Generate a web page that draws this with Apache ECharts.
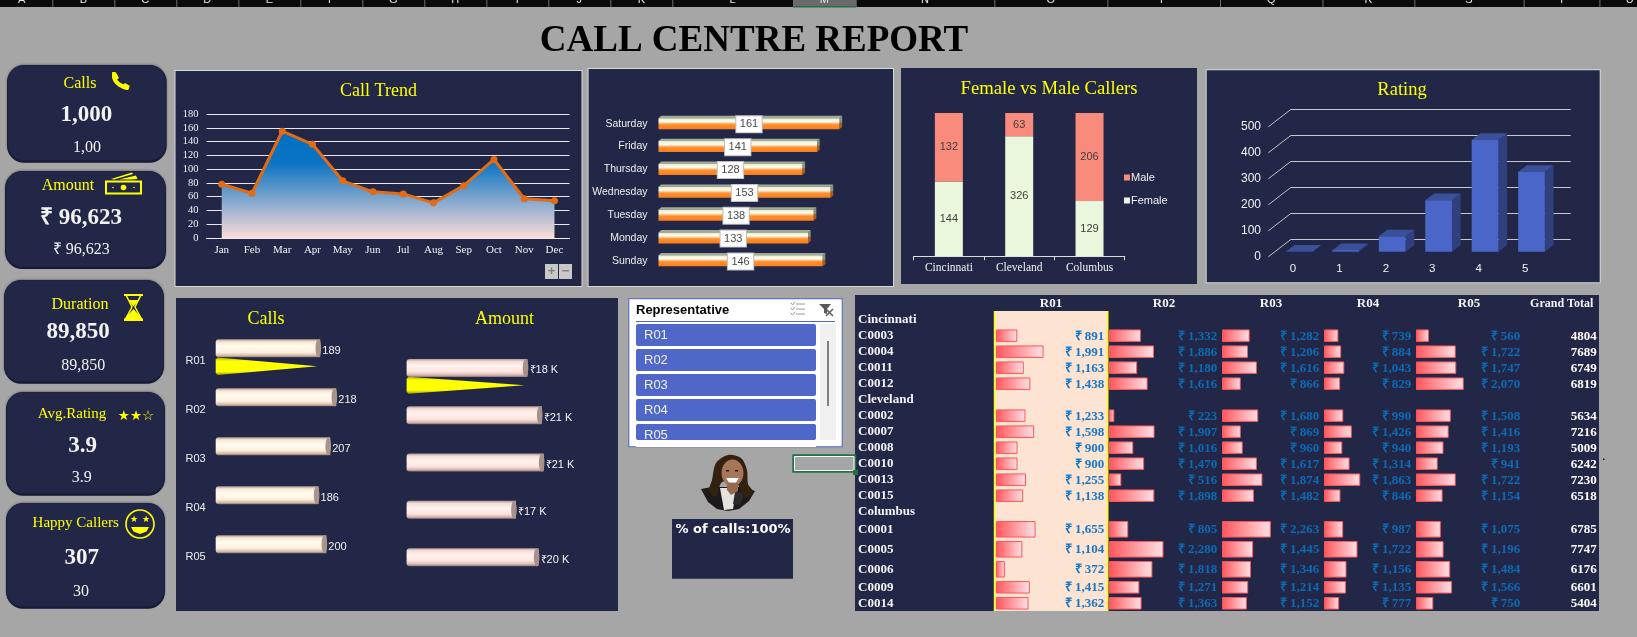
<!DOCTYPE html>
<html>
<head>
<meta charset="utf-8">
<style>html,body{margin:0;padding:0;background:#a6a6a6;overflow:hidden}#c{width:1637px;height:637px}</style>
<script src="https://cdn.jsdelivr.net/npm/echarts@6/dist/echarts.min.js"></script>
</head>
<body>
<div id="c"></div>
<script>
const months = ['Jan','Feb','Mar','Apr','May','Jun','Jul','Aug','Sep','Oct','Nov','Dec'];
const callsByMonth = [78,65,155,136,83,67,64,51,76,114,57,54];
const weekdays = ['Sunday','Monday','Tuesday','Wednesday','Thursday','Friday','Saturday'];
const callsByWeekday = [146,133,138,153,128,141,161];
const cities = ['Cincinnati','Cleveland','Columbus'];
const femaleCallers = [144,326,129];
const maleCallers = [132,63,206];
const ratingLevels = ['0','1','2','3','4','5'];
const ratingCounts = [0,6,59,198,430,307];
const reps = ['R01','R02','R03','R04','R05'];
const repCalls = [189,218,207,186,200];
const selectedCalls = [189];
const repAmount = [18415,20581,20872,16651,20104];
const selectedAmount = [18415];
const tableRows = ['Cincinnati','C0003','C0004','C0011','C0012','Cleveland','C0002','C0007','C0008','C0010','C0013','C0015','Columbus','C0001','C0005','C0006','C0009','C0014'];
const r01 = [null,891,1991,1163,1438,null,1233,1598,900,900,1255,1138,null,1655,1104,372,1415,1362];
const r02 = [null,1332,1886,1180,1616,null,223,1907,1016,1470,516,1898,null,805,2280,1818,1271,1363];
const r03 = [null,1282,1206,1616,866,null,1680,869,960,1617,1874,1482,null,2263,1445,1346,1214,1152];
const r04 = [null,739,884,1043,829,null,990,1426,940,1314,1863,846,null,987,1722,1156,1135,777];
const r05 = [null,560,1722,1747,2070,null,1508,1416,1193,941,1722,1154,null,1075,1196,1484,1566,750];
const grandTotals = [null,4804,7689,6749,6819,null,5634,7216,5009,6242,7230,6518,null,6785,7747,6176,6601,5404];
const columnLetters = ['A','B','C','D','E','F','G','H','I','J','K','L','M','N','O','P','Q','R','S','T','U'];

const NAVY = '#222747', YEL = '#ffff00', SERIF = '"Liberation Serif"', SANS = '"Liberation Sans"';
const grids = [], xAxes = [], yAxes = [], series = [], gfx = [], titles = [];
function addGrid(g, x, y) {
  const i = grids.length;
  grids.push(Object.assign({ containLabel: false }, g));
  xAxes.push(Object.assign({ gridIndex: i }, x));
  yAxes.push(Object.assign({ gridIndex: i }, y));
  return i;
}
const HID = { show: false };
function R(x, y, w, h, fill, o) { o = o || {}; gfx.push({ type: 'rect', z: o.z == null ? -10 : o.z, silent: true, shape: { x, y, width: w, height: h, r: o.r || 0 }, style: Object.assign({ fill }, o.style || {}) }); }
function T(text, x, y, o) { o = o || {}; gfx.push({ type: 'text', z: 100, silent: true, style: { text, x, y, align: o.align || 'center', verticalAlign: o.v || 'middle', fill: o.fill || '#fff', fontSize: o.size || 12, fontFamily: o.family || SANS, fontWeight: o.weight || 'normal' } }); }
function P(points, fill, o) { o = o || {}; gfx.push({ type: o.line ? 'polyline' : 'polygon', z: 100, silent: true, shape: { points, smooth: o.smooth || 0 }, style: o.line ? { fill: null, stroke: fill, lineWidth: o.line, lineCap: 'round' } : { fill } }); }
function L(x1, y1, x2, y2, c, w) { gfx.push({ type: 'line', z: 100, silent: true, shape: { x1, y1, x2, y2 }, style: { stroke: c, lineWidth: w || 1 } }); }
function chartTitle(text, x, y, size) { titles.push({ text, left: x, top: y, padding: 0, textAlign: 'center', textVerticalAlign: 'middle', textStyle: { color: YEL, fontFamily: SERIF, fontSize: size || 18, fontWeight: 'normal' } }); }

/* sheet chrome */
R(0, 0, 1637, 7, '#0b0b0b');
R(793, 0, 63, 6, '#6a6a6a');
R(793, 6, 63, 1.5, '#217346');
const colEdges = [-9,52.3,114.3,176.3,238.3,300.3,362.3,424.3,486.3,548.3,610.3,672.3,793,855.7,994.3,1107.4,1220,1322.5,1414.3,1523.6,1599.4,1660];
colEdges.forEach(e => R(e, 0, 1, 7, '#6f6f6f'));
columnLetters.forEach((c, i) => T(c, (colEdges[i] + colEdges[i + 1]) / 2, 5, { v: 'bottom', size: 11, fill: '#e6e6e6' }));
titles.push({ text: 'CALL CENTRE REPORT', left: 754, top: 41, padding: 0, textAlign: 'center', textVerticalAlign: 'middle', textStyle: { color: '#000', fontFamily: SERIF, fontSize: 37, fontWeight: 'bold' } });

/* KPI cards */
function card(x1, y1, x2, y2, label, lx, ly, ls, main, mx, my, small, sx, sy) {
  R(x1, y1, x2 - x1, y2 - y1, '#161931', { r: 17 });
  R(x1 + 1, y1 + 0.5, x2 - x1 - 2, y2 - y1 - 3, NAVY, { r: 16, style: { shadowBlur: 3, shadowColor: NAVY } });
  T(label, lx, ly, { family: SERIF, size: ls, fill: YEL });
  T(main, mx, my, { family: SERIF, size: 23, weight: 'bold', fill: '#f2f2f2' });
  T(small, sx, sy, { family: SERIF, size: 16, fill: '#f2f2f2' });
}
card(7, 65, 166.7, 162.7, 'Calls', 80, 84, 16, '1,000', 86.3, 115, '1,00', 87, 148);
card(5, 171, 166, 269, 'Amount', 68, 185.5, 16, '\u20B9 96,623', 81, 218, '\u20B9 96,623', 81.3, 249.5);
card(4, 280, 164, 383.7, 'Duration', 80, 304.5, 16, '89,850', 78, 332, '89,850', 83.3, 366);
card(6, 392, 165, 495.7, 'Avg.Rating', 72, 414.5, 15, '3.9', 82.7, 446, '3.9', 81.7, 477.5);
card(6, 503, 165, 608.7, 'Happy Callers', 75.7, 523.5, 15, '307', 81.7, 558.5, '30', 81, 592);
/* phone */
P([[114,74],[115,80],[120,85],[127,88]], YEL, { line: 4, smooth: 0.5 });
P([[112,72],[116,72.5],[119,78],[115,81]], YEL);
P([[122,86],[125,83],[130,86],[127.5,90]], YEL);
/* money */
gfx.push({ type: 'rect', z: 100, silent: true, shape: { x: 106, y: 181.5, width: 35, height: 12 }, style: { fill: 'none', stroke: YEL, lineWidth: 2 } });
gfx.push({ type: 'circle', z: 100, silent: true, shape: { cx: 123.5, cy: 187.5, r: 2.8 }, style: { fill: YEL } });
gfx.push({ type: 'circle', z: 100, silent: true, shape: { cx: 113, cy: 187.5, r: 0.8 }, style: { fill: YEL } });
gfx.push({ type: 'circle', z: 100, silent: true, shape: { cx: 134, cy: 187.5, r: 0.8 }, style: { fill: YEL } });
P([[111,179],[132,172.5],[133,174],[114,179.5]], YEL);
P([[119,179.5],[136,175.5],[137.5,179],[131,179.5]], YEL);
/* hourglass */
R(124, 294, 19, 2, YEL, { z: 100 }); R(124, 318.5, 19, 2.5, YEL, { z: 100 });
P([[126,295],[132,307],[125.5,319]], YEL, { line: 1.5 });
P([[141,295],[135,307],[141.5,319]], YEL, { line: 1.5 });
P([[128.5,300],[138.5,300],[134,306],[133,306]], YEL);
P([[124.5,319],[133.5,309],[142.5,319]], YEL);
/* stars */
T('\u2605\u2605\u2606', 136, 416, { family: '"DejaVu Sans"', size: 13.5, fill: YEL });
/* smiley */
gfx.push({ type: 'circle', z: 100, silent: true, shape: { cx: 140, cy: 524, r: 14 }, style: { fill: 'none', stroke: YEL, lineWidth: 1.6 } });
T('\u2605', 134, 520, { family: '"DejaVu Sans"', size: 9, fill: YEL });
T('\u2605', 146, 520, { family: '"DejaVu Sans"', size: 9, fill: YEL });
P([[131,527],[149,527],[146.5,531.5],[140,534],[133.5,531.5]], YEL);

/* Call trend */
R(174.5, 70, 408, 217, '#d8d8d8'); R(175.5, 71, 406, 215, NAVY);
chartTitle('Call Trend', 378.5, 91);
let g = addGrid({ left: 206.6, top: 114, width: 363, height: 124 },
  { type: 'category', data: months, axisLine: { lineStyle: { color: '#eee' } }, axisTick: HID, axisLabel: { color: '#f2f2f2', fontFamily: SERIF, fontSize: 11, margin: 7, interval: 0 } },
  { type: 'value', min: 0, max: 180, interval: 20, axisLine: HID, axisTick: HID, axisLabel: { color: '#f2f2f2', fontFamily: SERIF, fontSize: 10.5, margin: 8 }, splitLine: { lineStyle: { color: '#e8e8e8', width: 1 } } });
series.push({ type: 'line', xAxisIndex: g, yAxisIndex: g, data: callsByMonth, symbol: 'circle', symbolSize: 7, lineStyle: { color: '#e26b15', width: 3 }, itemStyle: { color: '#e26b15' },
  areaStyle: { opacity: 1, color: { type: 'linear', x: 0, y: 0, x2: 0, y2: 1, colorStops: [{ offset: 0, color: '#0070c0' }, { offset: 0.3, color: '#0a74c4' }, { offset: 1, color: '#fcdcd8' }] } } });
R(545, 264, 13, 15, '#c8c8c8', { z: 99 }); R(559, 264, 13, 15, '#c8c8c8', { z: 99 });
T('+', 551.5, 271.5, { size: 13, fill: '#808080', weight: 'bold' }); T('\u2212', 565.5, 271.5, { size: 13, fill: '#808080', weight: 'bold' });

/* Weekdays */
R(587.6, 68, 306.4, 219, '#d8d8d8'); R(588.6, 69, 304.4, 217, NAVY);
g = addGrid({ left: 658.5, top: 112.3, width: 250, height: 160 },
  { type: 'value', min: 0, max: 222.4, show: false },
  { type: 'category', data: weekdays, axisLine: HID, axisTick: HID, axisLabel: { color: '#eee', fontFamily: SANS, fontSize: 10.5, margin: 11, interval: 0, padding: [6, 0, 0, 0] } });
series.push({ type: 'custom', xAxisIndex: g, yAxisIndex: g, data: callsByWeekday.map((v, i) => [v, i]), encode: { x: 0, y: 1 },
  renderItem(p, api) {
    const v = api.value(0), c = api.coord([v, api.value(1)]), x0 = api.coord([0, api.value(1)])[0], cy = c[1], h = 11, dx = 2.7, dy = 2.4, t = cy - h / 2, b = cy + h / 2;
    return { type: 'group', children: [
      { type: 'polygon', shape: { points: [[x0, t], [c[0], t], [c[0] + dx, t - dy], [x0 + dx, t - dy]] }, style: { fill: '#a3ab92' } },
      { type: 'polygon', shape: { points: [[c[0], t], [c[0] + dx, t - dy], [c[0] + dx, b - dy], [c[0], b]] }, style: { fill: { type: 'linear', x: 0, y: 0, x2: 0, y2: 1, colorStops: [{ offset: 0, color: '#8a917c' }, { offset: 0.45, color: '#8a917c' }, { offset: 0.55, color: '#a85d1c' }, { offset: 1, color: '#a85d1c' }] } } },
      { type: 'rect', shape: { x: x0, y: t, width: c[0] - x0, height: h }, style: { fill: { type: 'linear', x: 0, y: 0, x2: 0, y2: 1, colorStops: [{ offset: 0, color: '#e4edd0' }, { offset: 0.3, color: '#fffdf0' }, { offset: 0.42, color: '#ffd0a0' }, { offset: 0.58, color: '#ff9030' }, { offset: 1, color: '#f97e1a' }] } } },
      { type: 'text', z2: 10, style: { text: String(v), x: (x0 + c[0]) / 2, y: cy + 0.6, align: 'center', verticalAlign: 'middle', fill: '#4a4a4a', fontSize: 11, fontFamily: SANS, backgroundColor: '#fff', borderColor: '#bdbdbd', borderWidth: 1, padding: [3, 3.5, 2, 3.5] } }
    ] };
  } });

/* Female vs Male */
R(901, 68, 296, 216, NAVY);
chartTitle('Female vs Male Callers', 1049, 89, 18.7);
g = addGrid({ left: 913.7, top: 113, width: 211, height: 143.2 },
  { type: 'category', data: cities, axisLine: { lineStyle: { color: '#dcdcdc' } }, axisTick: { show: true, length: 4, lineStyle: { color: '#dcdcdc' } }, axisLabel: { color: '#f2f2f2', fontFamily: SERIF, fontSize: 11.5, margin: 6, interval: 0 } },
  { type: 'value', min: 0, max: 100, show: false });
const genderTotal = cities.map((c, i) => femaleCallers[i] + maleCallers[i]);
[['Female', femaleCallers, '#ebf7dc'], ['Male', maleCallers, '#f98b7d']].forEach(([name, arr, color]) => {
  series.push({ type: 'bar', name, stack: 'g', xAxisIndex: g, yAxisIndex: g, barWidth: 28, itemStyle: { color }, data: arr.map((v, i) => v / genderTotal[i] * 100),
    label: { show: true, position: 'inside', color: '#404040', fontFamily: SANS, fontSize: 11, formatter: p => String(arr[p.dataIndex]) } });
});

/* Rating */
R(1205.7, 69.3, 395, 214, '#d8d8d8'); R(1206.7, 70.3, 393, 212, NAVY);
chartTitle('Rating', 1402, 90, 18.5);
const wall = addGrid({ left: 1291, top: 109.3, width: 279.7, height: 130 },
  { type: 'value', min: 0, max: 1, show: false },
  { type: 'value', min: 0, max: 500, interval: 100, axisLine: HID, axisTick: HID, axisLabel: HID, splitLine: { lineStyle: { color: '#c8c8c8', width: 1 } } });
series.push({ type: 'custom', xAxisIndex: wall, yAxisIndex: wall, z: 1, data: [[0, 0], [0, 100], [0, 200], [0, 300], [0, 400], [0, 500]], encode: { x: 0, y: 1 },
  renderItem(p, api) { const c = api.coord([0, api.value(1)]); return { type: 'line', shape: { x1: c[0], y1: c[1], x2: c[0] - 22.7, y2: c[1] + 17.5 }, style: { stroke: '#c0c0c0', lineWidth: 1 } }; } });
const frontAxis = addGrid({ left: 1268, top: 126.7, width: 10, height: 130.3 },
  { type: 'value', min: 0, max: 1, show: false },
  { type: 'value', min: 0, max: 500, interval: 100, axisLine: HID, axisTick: HID, splitLine: HID, axisLabel: { color: '#f2f2f2', fontFamily: SANS, fontSize: 12, margin: 7 } });
g = addGrid({ left: 1269.8, top: 121.7, width: 278.6, height: 130 },
  { type: 'category', data: ratingLevels, axisLine: HID, axisTick: HID, axisLabel: { color: '#f2f2f2', fontFamily: SANS, fontSize: 11.5, margin: 11, interval: 0 } },
  { type: 'value', min: 0, max: 500, show: false });
series.push({ type: 'custom', xAxisIndex: g, yAxisIndex: g, z: 3, data: ratingCounts.map((v, i) => [i, v]), encode: { x: 0, y: 1 },
  renderItem(p, api) {
    const c = api.coord([api.value(0), api.value(1)]), base = api.coord([api.value(0), 0])[1], w = 26.7, dx = 8.7, dy = 6.7, x = c[0] + 6.3 - w / 2, t = c[1];
    return { type: 'group', children: [
      { type: 'polygon', shape: { points: [[x + w, t], [x + w + dx, t - dy], [x + w + dx, base - dy], [x + w, base]] }, style: { fill: '#30407e' } },
      { type: 'polygon', shape: { points: [[x, t], [x + w, t], [x + w + dx, t - dy], [x + dx, t - dy]] }, style: { fill: '#3a5099' } },
      { type: 'rect', shape: { x, y: t, width: w, height: Math.max(base - t, 0) }, style: { fill: '#4a66c8' } }
    ] };
  } });

/* Calls / Amount cylinders */
R(176, 298, 442, 313, NAVY);
chartTitle('Calls', 266, 319);
chartTitle('Amount', 504.6, 319);
function cylinderSeries(gi, vals, stops, capColor, fmt, cylTop, cylH) {
  series.push({ type: 'custom', xAxisIndex: gi, yAxisIndex: gi, data: vals.map((v, i) => [v, i]), encode: { x: 0, y: 1 },
    renderItem(p, api) {
      const v = api.value(0), c = api.coord([v, api.value(1)]), x0 = api.coord([0, api.value(1)])[0], t = c[1] + cylTop, m = t + cylH / 2;
      return { type: 'group', children: [
        { type: 'rect', shape: { x: x0, y: t, width: c[0] - x0, height: cylH, r: [3, 0, 0, 3] }, style: { fill: { type: 'linear', x: 0, y: 0, x2: 0, y2: 1, colorStops: stops } } },
        { type: 'ellipse', shape: { cx: c[0] - 2, cy: m, rx: 2.8, ry: cylH / 2 }, style: { fill: capColor } },
        { type: 'text', style: { text: fmt(v), x: c[0] + 2, y: m + 2.4, align: 'left', verticalAlign: 'middle', fill: '#f2f2f2', fontSize: 11, fontFamily: SANS } }
      ] };
    } });
}
function coneSeries(gi, vals, top, h) {
  series.push({ type: 'custom', xAxisIndex: gi, yAxisIndex: gi, data: vals.map((v, i) => [v, i]), encode: { x: 0, y: 1 },
    renderItem(p, api) {
      const c = api.coord([api.value(0), api.value(1)]), x0 = api.coord([0, api.value(1)])[0], t = c[1] + top;
      return { type: 'polygon', shape: { points: [[x0, t + 2], [x0 + 2, t], [c[0] - 3, t + h / 2], [x0 + 2, t + h], [x0, t + h - 2]] }, style: { fill: { type: 'linear', x: 0, y: 0, x2: 0, y2: 1, colorStops: [{ offset: 0, color: '#a8a800' }, { offset: 0.2, color: YEL }, { offset: 0.8, color: YEL }, { offset: 1, color: '#9a9a00' }] } } };
    } });
}
const cream = [{ offset: 0, color: '#b09a8a' }, { offset: 0.14, color: '#f6e6d6' }, { offset: 0.38, color: '#fffcee' }, { offset: 0.72, color: '#fff0e0' }, { offset: 0.9, color: '#d4bcaa' }, { offset: 1, color: '#8e7868' }];
const pink = [{ offset: 0, color: '#b09a94' }, { offset: 0.14, color: '#f6dcd6' }, { offset: 0.4, color: '#fff2ee' }, { offset: 0.72, color: '#ffe2de' }, { offset: 0.9, color: '#d4b6b0' }, { offset: 1, color: '#8e7470' }];
g = addGrid({ left: 215.7, top: 336.5, width: 166, height: 245 },
  { type: 'value', min: 0, max: 300, show: false },
  { type: 'category', data: reps, inverse: true, axisLine: HID, axisTick: HID, axisLabel: { color: '#eee', fontFamily: SANS, fontSize: 11, margin: 10, interval: 0 } });
cylinderSeries(g, repCalls, cream, '#a8948a', v => String(v), -21.7, 18);
coneSeries(g, selectedCalls, -3.5, 17.5);
g = addGrid({ left: 406.6, top: 353, width: 197, height: 236.5 },
  { type: 'value', min: 0, max: 30000, show: false },
  { type: 'category', data: reps, inverse: true, show: false });
cylinderSeries(g, repAmount, pink, '#a8908c', v => '\u20B9' + Math.round(v / 1000) + ' K', -17.7, 18);
coneSeries(g, selectedAmount, 0, 17);

/* Slicer */
R(628.3, 298.3, 214.4, 149, '#4f67c8', { z: 90 });
R(629.3, 299.3, 212.4, 147, '#fff', { z: 90 });
T('Representative', 636, 310.5, { align: 'left', size: 13, weight: 'bold', fill: '#000' });
R(636, 321, 199, 1, '#4f67c8', { z: 91 });
[[324, 22], [349, 22], [374, 22], [399, 22], [424, 16]].forEach(([y, h], i) => {
  R(636, y, 180, h, '#4f67c8', { z: 91, r: 2 });
  T(reps[i], 644, y + 11, { align: 'left', size: 13, fill: '#f2f2f2' });
});
R(636, 440, 180, 7, '#fff', { z: 99 });
R(820, 324, 16, 116, '#f0f0f0', { z: 91 });
R(827, 341, 2, 65, '#808080', { z: 92 });
[304, 309, 314].forEach(y => { L(796, y, 805, y, '#9a9a9a'); P([[791, y - 1], [792.5, y + 1], [795, y - 2]], '#9a9a9a', { line: 1 }); });
P([[819, 304], [831, 304], [827, 309], [827, 314], [824, 313], [824, 309]], '#5a5a5a');
L(826, 309, 833, 316, '#5a5a5a', 1.5); L(833, 309, 826, 316, '#5a5a5a', 1.5);

/* Avatar */
P([[701,489],[712,487],[744,487],[755,491],[749,501],[739,509],[728,511],[717,509],[708,502]], '#1c1a1a');
P([[720,488],[737,488],[733,509],[724,510]], '#e6e2de');
P([[735,492],[745,492],[740,505],[733,504]], '#2a2a2a');
P([[712,480],[716,463],[728,455],[741,458],[747,470],[748,484],[753,492],[745,498],[736,482],[722,482],[716,497],[709,491]], '#33210f', { smooth: 0.3 });
gfx.push({ type: 'ellipse', z: 100, silent: true, shape: { cx: 732.5, cy: 473, rx: 11, ry: 13.5 }, style: { fill: '#a5765a' } });
P([[727,483],[738,483],[738,491],[731,495],[727,490]], '#96684e');
P([[726,478],[739,478],[736,482.5],[729,482.5]], '#fff');
R(726, 470, 3, 1.5, '#2a1a10', { z: 101 }); R(735, 470, 3, 1.5, '#2a1a10', { z: 101 });

/* % of calls */
R(672, 519, 121, 59.7, NAVY);
T('% of calls:100%', 733, 529.5, { family: '"DejaVu Sans"', size: 13, weight: 'bold', fill: '#fff' });

/* Table */
R(855, 295, 744, 316, NAVY);
R(994.3, 311, 113.4, 300, '#fde4d2');
R(993.8, 311, 1.5, 300, YEL, { z: -9 }); R(1107, 311, 1.5, 300, YEL, { z: -9 });
const tableCols = [[996, 113, r01], [1109, 113, r02], [1222, 102, r03], [1324, 92, r04], [1416, 109, r05]];
const colCentres = [1051, 1164, 1271, 1368, 1469];
reps.forEach((r, i) => T(r, colCentres[i], 304, { family: SERIF, size: 13, weight: 'bold', fill: '#f4f4f4' }));
T('Grand Total', 1561.7, 304, { family: SERIF, size: 12, weight: 'bold', fill: '#f4f4f4' });
const rowBlocks = [[0, 13, 311.7, 208], [13, 16, 519.3, 60], [16, 18, 579.3, 32]];
const rowStyle = { color: '#f4f4f4', fontFamily: SERIF, fontSize: 13, fontWeight: 'bold' };
const fmtRs = v => '\u20B9 ' + v.toLocaleString('en-US');
rowBlocks.forEach(([from, to, top, height]) => {
  const cats = tableRows.slice(from, to);
  tableCols.forEach(([left, width, arr], ci) => {
    const gi = addGrid({ left, top, width, height },
      { type: 'value', min: 0, max: 4730, show: false },
      { type: 'category', data: cats, inverse: true, axisLine: HID, axisTick: HID,
        axisLabel: ci === 0 ? Object.assign({ show: true, align: 'left', margin: 138, interval: 0 }, rowStyle) : HID });
    const textColor = ci === 0 ? '#1577c6' : '#0d6ab5';
    series.push({ type: 'custom', xAxisIndex: gi, yAxisIndex: gi, z: 4, encode: { x: 0, y: 1 },
      data: arr.slice(from, to).map((v, i) => [v, i]).filter(d => d[0] != null),
      renderItem(p, api) {
        const v = api.value(0), c = api.coord([v, api.value(1)]), x0 = api.coord([0, api.value(1)])[0], h = api.size([0, 1])[1] - 4.5, right = p.coordSys.x + p.coordSys.width - 4.7;
        return { type: 'group', children: [
          { type: 'rect', shape: { x: x0 + 0.5, y: c[1] - h / 2, width: c[0] - x0 - 1, height: h }, style: { stroke: '#ff555a', lineWidth: 1, fill: { type: 'linear', x: 0, y: 0, x2: 1, y2: 0, colorStops: [{ offset: 0, color: '#ff555a' }, { offset: 1, color: '#ffe2e6' }] } } },
          { type: 'text', style: { text: fmtRs(v), x: right, y: c[1] + 0.5, align: 'right', verticalAlign: 'middle', fill: textColor, fontSize: 13, fontWeight: 'bold', fontFamily: SERIF } }
        ] };
      } });
  });
  const gt = addGrid({ left: 1523, top, width: 73.7, height },
    { type: 'value', min: 0, max: 10000, show: false },
    { type: 'category', data: cats, inverse: true, show: false });
  series.push({ type: 'custom', xAxisIndex: gt, yAxisIndex: gt, z: 4, encode: { x: 0, y: 1 },
    data: grandTotals.slice(from, to).map((v, i) => [v, i]).filter(d => d[0] != null),
    renderItem(p, api) {
      const c = api.coord([0, api.value(1)]);
      return { type: 'text', style: { text: String(api.value(0)), x: p.coordSys.x + p.coordSys.width, y: c[1] + 0.5, align: 'right', verticalAlign: 'middle', fill: '#fff', fontSize: 13, fontWeight: 'bold', fontFamily: SERIF } };
    } });
});

/* Active cell */
gfx.push({ type: 'rect', z: 110, silent: true, shape: { x: 793.3, y: 455.3, width: 62, height: 16.5 }, style: { fill: 'none', stroke: '#217346', lineWidth: 2 } });
gfx.push({ type: 'rect', z: 110, silent: true, shape: { x: 794.5, y: 456.5, width: 59.5, height: 14 }, style: { fill: 'none', stroke: '#fff', lineWidth: 1 } });
R(853, 470, 5, 5, '#217346', { z: 111 });
R(1603, 458.5, 1.5, 1.5, '#10131f', { z: 100 });

const chart = echarts.init(document.getElementById('c'), null, { renderer: 'canvas', width: 1637, height: 637 });
chart.setOption({
  animation: false, backgroundColor: '#a6a6a6', title: titles,
  legend: { data: ['Male', 'Female'], orient: 'vertical', left: 1124, top: 172, itemWidth: 6, itemHeight: 6, itemGap: 12, icon: 'rect', padding: 0, selectedMode: false, textStyle: { color: '#f2f2f2', fontFamily: SANS, fontSize: 11, padding: [0, 0, 0, -4] } },
  tooltip: { show: false },
  grid: grids, xAxis: xAxes, yAxis: yAxes, series, graphic: { elements: gfx }
});
</script>
</body>
</html>
